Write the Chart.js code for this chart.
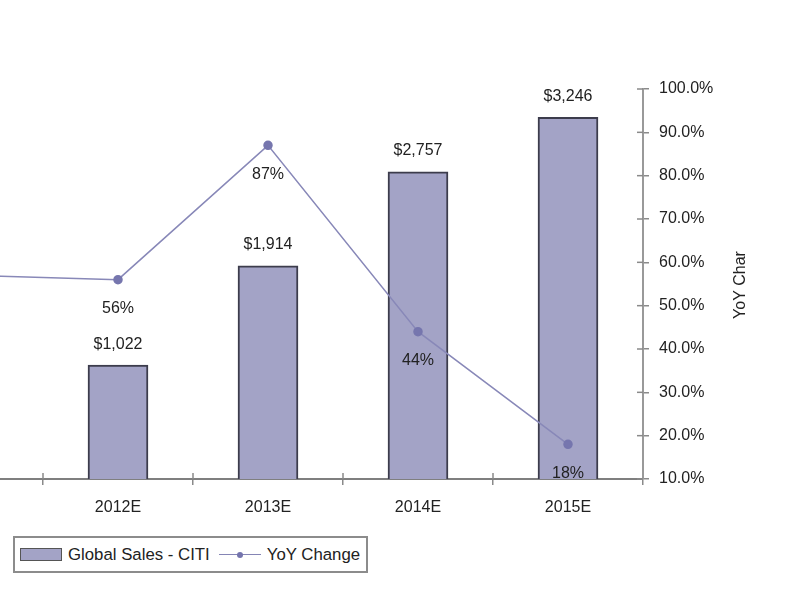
<!DOCTYPE html>
<html>
<head>
<meta charset="utf-8">
<script src="https://cdn.jsdelivr.net/npm/chart.js@4.4.1/dist/chart.umd.min.js"></script>
<style>
html, body { margin: 0; padding: 0; background: #fff; overflow: hidden; }
body { width: 796px; height: 600px; position: relative; font-family: "Liberation Sans", Arial, sans-serif; }
/* the chart is cut on the left in the reference, so the canvas starts off-screen */
#wrap { position: absolute; left: -200px; top: 0; width: 996px; height: 600px; }
#legend {
  position: absolute; left: 13px; top: 536px; width: 351px; height: 33px;
  border: 2px solid #8c8c8c; display: flex; align-items: center;
  font-size: 16.8px; color: #222; background: #fff; white-space: nowrap;
}
.swatch { display: inline-block; width: 40px; height: 11px; border: 1px solid #555; background: #a3a3c6; margin: 0 6px 0 5px; }
.linekey { display: inline-block; position: relative; width: 42px; height: 12px; margin: 0 6px 0 9px; }
.linekey::before { content: ""; position: absolute; left: 0; right: 0; top: 5px; height: 1.5px; background: #8585b5; }
.linekey::after { content: ""; position: absolute; left: 18px; top: 3px; width: 6px; height: 6px; border-radius: 50%; background: #7474ad; }
</style>
</head>
<body>
<div id="wrap"><canvas id="myChart"></canvas></div>
<div id="legend"></div>
<script>
// カテゴリ（先頭の 2011E は左端で切れて見えない）
var categories = ['2011E', '2012E', '2013E', '2014E', '2015E'];
// 売上（$）
var salesValues = [655, 1022, 1914, 2757, 3246];
// 前年比（%）
var yoyValues = [57, 56, 87, 44, 18];
// 右軸の範囲
var yoyMin = 10, yoyMax = 100, yoyStep = 10;
var salesMax = 3500;

var salesLabel = 'Global Sales - CITI';
var yoyLabel = 'YoY Change';
var rightTitle = 'YoY Char';

var textColor = '#222';
var font16 = { family: '"Liberation Sans", Arial, sans-serif', size: 16 };

// 値ラベルを描くプラグイン
var valueLabels = {
  id: 'valueLabels',
  afterDatasetsDraw: function(chart) {
    var ctx = chart.ctx;
    ctx.save();
    ctx.font = '16px "Liberation Sans", Arial, sans-serif';
    ctx.fillStyle = textColor;
    ctx.textAlign = 'center';
    ctx.textBaseline = 'middle';
    chart.getDatasetMeta(1).data.forEach(function(bar, i) {
      ctx.fillText('$' + salesValues[i].toLocaleString('en-US'), bar.x, bar.y - 21);
    });
    chart.getDatasetMeta(0).data.forEach(function(pt, i) {
      ctx.fillText(yoyValues[i] + '%', pt.x, pt.y + 29);
    });
    ctx.restore();
  },
  afterDraw: function(chart) {
    var ctx = chart.ctx;
    var y1 = chart.scales.y1;
    var x = chart.scales.x;
    ctx.save();
    ctx.strokeStyle = '#8a8a8a';
    ctx.lineWidth = 1.5;
    // 内側の目盛り（十字型に見せる）
    y1.ticks.forEach(function(t, i) {
      var py = y1.getPixelForTick(i);
      ctx.beginPath();
      ctx.moveTo(y1.left - 6, py);
      ctx.lineTo(y1.left, py);
      ctx.stroke();
    });
    var half = (x.getPixelForValue(1) - x.getPixelForValue(0)) / 2;
    for (var i = 1; i < categories.length; i++) {
      var px = x.getPixelForValue(i) - half;
      ctx.beginPath();
      ctx.moveTo(px, x.top - 6);
      ctx.lineTo(px, x.top);
      ctx.stroke();
    }
    // 右軸タイトル（下から上へ）
    ctx.font = '16px "Liberation Sans", Arial, sans-serif';
    ctx.fillStyle = textColor;
    ctx.textAlign = 'center';
    ctx.textBaseline = 'middle';
    ctx.translate(941, 285);
    ctx.rotate(-Math.PI / 2);
    ctx.fillText(rightTitle, 0, 0);
    ctx.restore();
  }
};

var ctx = document.getElementById('myChart').getContext('2d');
var myChart = new Chart(ctx, {
  data: {
    labels: categories,
    datasets: [{
      type: 'line',
      label: yoyLabel,
      data: yoyValues,
      yAxisID: 'y1',
      borderColor: '#8888b8',
      borderWidth: 1.5,
      pointBackgroundColor: '#7676ae',
      pointBorderColor: '#7676ae',
      pointRadius: 4,
      tension: 0,
      order: 0
    }, {
      type: 'bar',
      label: salesLabel,
      data: salesValues,
      yAxisID: 'y',
      backgroundColor: '#a3a3c6',
      borderColor: '#3c3c4c',
      borderWidth: 2,
      borderSkipped: 'bottom',
      barThickness: 60,
      order: 1
    }]
  },
  options: {
    responsive: true,
    maintainAspectRatio: false,
    animation: false,
    layout: { padding: { left: 93, top: 89, right: 0, bottom: 0 } },
    plugins: {
      legend: { display: false },
      tooltip: { enabled: false }
    },
    scales: {
      x: {
        offset: true,
        grid: { offset: true, drawOnChartArea: false, color: '#8a8a8a', lineWidth: 1.5, tickLength: 6 },
        border: { color: '#7f7f7f', width: 2 },
        ticks: { color: textColor, font: font16, padding: 13, maxRotation: 0 },
        afterFit: function(s) { s.height = 121; }
      },
      y: {
        display: false,
        min: 0,
        max: salesMax
      },
      y1: {
        position: 'right',
        min: yoyMin,
        max: yoyMax,
        ticks: {
          stepSize: yoyStep,
          color: textColor,
          font: font16,
          padding: 10,
          callback: function(v) { return v.toFixed(1) + '%'; }
        },
        grid: { drawOnChartArea: false, color: '#8a8a8a', lineWidth: 1.5, tickLength: 6 },
        border: { color: '#999', width: 2 },
        afterFit: function(s) { s.width = 153; }
      }
    }
  },
  plugins: [valueLabels]
});

// 凡例（HTML）
var legend = document.getElementById('legend');
legend.innerHTML = '<span class="swatch"></span><span>' + salesLabel + '</span>' +
  '<span class="linekey"></span><span>' + yoyLabel + '</span>';
</script>
</body>
</html>
